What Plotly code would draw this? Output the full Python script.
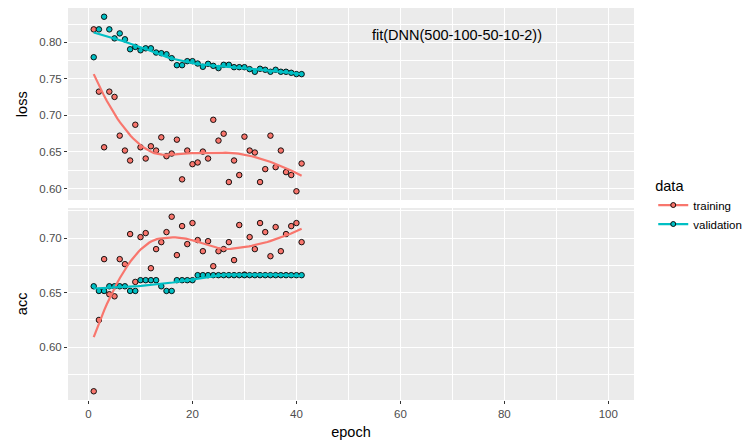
import numpy as np
import plotly.graph_objects as go

# ---- data ----
n_epochs = 100
epoch = list(range(1, 42))

loss_training = [0.8177, 0.7325, 0.6564, 0.7325, 0.7253, 0.6723, 0.6519, 0.6383, 0.6872, 0.6564,
                 0.6410, 0.6578, 0.6519, 0.6700, 0.6442, 0.6478, 0.6668, 0.6125, 0.6519, 0.6333,
                 0.6356, 0.6505, 0.6410, 0.6940, 0.6655, 0.6750, 0.6088, 0.6383, 0.6184, 0.6709,
                 0.6519, 0.6492, 0.6088, 0.6265, 0.6723, 0.6292, 0.6519, 0.6224, 0.6184, 0.5962,
                 0.6342]
loss_validation = [0.7796, 0.8177, 0.8350, 0.8177, 0.8054, 0.8122, 0.8041, 0.7905, 0.7937, 0.7891,
                   0.7918, 0.7918, 0.7860, 0.7851, 0.7837, 0.7783, 0.7687, 0.7687, 0.7742, 0.7742,
                   0.7710, 0.7665, 0.7706, 0.7678, 0.7647, 0.7692, 0.7692, 0.7660, 0.7660, 0.7660,
                   0.7633, 0.7597, 0.7638, 0.7624, 0.7597, 0.7624, 0.7597, 0.7597, 0.7583, 0.7565,
                   0.7565]
acc_training = [0.5595, 0.6249, 0.6807, 0.6485, 0.6466, 0.6807, 0.6761, 0.7037, 0.6598, 0.7009,
                0.7046, 0.6724, 0.6899, 0.6963, 0.7055, 0.7196, 0.6844, 0.7110, 0.6945, 0.7138,
                0.6982, 0.6880, 0.6972, 0.6742, 0.6880, 0.6899, 0.6963, 0.6798, 0.7120, 0.6665,
                0.7009, 0.6899, 0.7138, 0.7055, 0.6834, 0.7101, 0.6880, 0.7037, 0.7110, 0.7138,
                0.6963]
acc_validation = [0.6558, 0.6515, 0.6515, 0.6558, 0.6558, 0.6558, 0.6558, 0.6515, 0.6515, 0.6614,
                  0.6614, 0.6614, 0.6614, 0.6558, 0.6515, 0.6515, 0.6614, 0.6614, 0.6614, 0.6614,
                  0.6660, 0.6660, 0.6660, 0.6660, 0.6660, 0.6660, 0.6660, 0.6660, 0.6660, 0.6660,
                  0.6660, 0.6660, 0.6660, 0.6660, 0.6660, 0.6660, 0.6660, 0.6660, 0.6660, 0.6660,
                  0.6660]

series_names = ["training", "validation"]
series_colors = {"training": "#F8766D", "validation": "#00BFC4"}
title_text = "fit(DNN(500-100-50-10-2))"


def loess(x, y, span=0.75, n_out=80):
    x = np.asarray(x, float)
    y = np.asarray(y, float)
    n = len(x)
    q = int(np.floor(n * span))
    xs = np.linspace(x.min(), x.max(), n_out)
    out = []
    for x0 in xs:
        d = np.abs(x - x0)
        dq = np.sort(d)[q - 1]
        w = np.clip(1 - (d / dq) ** 3, 0, None) ** 3
        X = np.vstack([np.ones(n), x - x0, (x - x0) ** 2]).T
        W = np.diag(w)
        beta = np.linalg.lstsq(X.T @ W @ X, X.T @ W @ y, rcond=None)[0]
        out.append(beta[0])
    return xs, np.array(out)


def yrange(*arrs):
    allv = np.concatenate([np.asarray(a, float) for a in arrs])
    lo, hi = allv.min(), allv.max()
    pad = (hi - lo) * 0.05
    return [lo - pad, hi + pad]


fig = go.Figure()

panels = [("y", {"training": loss_training, "validation": loss_validation}),
          ("y2", {"training": acc_training, "validation": acc_validation})]

# points
for yax, d in panels:
    for name in series_names:
        fig.add_trace(go.Scatter(
            x=epoch, y=d[name], mode="markers", xaxis="x" if yax == "y2" else "x2", yaxis=yax,
            marker=dict(size=5.5, color=series_colors[name], line=dict(color="black", width=0.9)),
            showlegend=False, hoverinfo="skip"))
# smooth lines
for yax, d in panels:
    for name in series_names:
        sx, sy = loess(epoch, d[name])
        fig.add_trace(go.Scatter(
            x=sx, y=sy, mode="lines", xaxis="x" if yax == "y2" else "x2", yaxis=yax,
            line=dict(color=series_colors[name], width=2.2),
            showlegend=False, hoverinfo="skip"))
# legend entries
for name in series_names:
    fig.add_trace(go.Scatter(
        x=[None], y=[None], mode="lines+markers", name=name,
        line=dict(color=series_colors[name], width=2.2),
        marker=dict(size=5, color=series_colors[name], line=dict(color="black", width=0.9))))

xr = [1 - (n_epochs - 1) * 0.05, n_epochs + (n_epochs - 1) * 0.05]
grid = dict(showgrid=True, gridcolor="white", gridwidth=1.1, zeroline=False,
            ticklen=3, tickcolor="#333333", tickwidth=1,
            tickfont=dict(family="Liberation Sans, Arial", size=11.5, color="#4D4D4D"),
            showline=False)
minor_x = dict(dtick=10, tick0=0, showgrid=True, gridcolor="white", gridwidth=0.5)
minor_y = dict(dtick=0.025, tick0=0, showgrid=True, gridcolor="white", gridwidth=0.5)

top_dom = [0.5102, 1]
bot_dom = [0, 0.4898]

fig.update_layout(
    width=742, height=440,
    margin=dict(l=60, r=116, t=0, b=48, autoexpand=False),
    paper_bgcolor="white", plot_bgcolor="#EBEBEB",
    font=dict(family="Liberation Sans, Arial", color="black"),
    xaxis=dict(domain=[0, 1], range=xr, anchor="y2", dtick=20, tick0=0, ticks="outside",
               minor=minor_x, title=dict(text="epoch", font=dict(size=14.5), standoff=8), **grid),
    xaxis2=dict(domain=[0, 1], range=xr, anchor="y", matches="x", dtick=20, tick0=0, ticks="",
                showticklabels=False, minor=minor_x, **grid),
    yaxis=dict(domain=top_dom, range=yrange(loss_training, loss_validation), anchor="x2",
               dtick=0.05, tick0=0, tickformat=".2f", ticks="outside", minor=minor_y, **grid),
    yaxis2=dict(domain=bot_dom, range=yrange(acc_training, acc_validation), anchor="x",
                dtick=0.05, tick0=0, tickformat=".2f", ticks="outside", minor=minor_y, **grid),
    legend=dict(x=1.034, y=0.497, xanchor="left", yanchor="middle",
                title=dict(text="data", font=dict(size=14.5)), itemwidth=30,
                font=dict(size=11.5), bgcolor="rgba(0,0,0,0)", tracegroupgap=0),
    annotations=[
        dict(text="loss", xref="paper", yref="paper", x=-0.081, y=sum(top_dom) / 2, textangle=-90,
             showarrow=False, font=dict(size=14.5, color="black"), xanchor="center", yanchor="middle"),
        dict(text="acc", xref="paper", yref="paper", x=-0.081, y=sum(bot_dom) / 2, textangle=-90,
             showarrow=False, font=dict(size=14.5, color="black"), xanchor="center", yanchor="middle"),
        dict(text=title_text, xref="paper", yref="paper", x=0.687, y=0.931, showarrow=False,
             font=dict(size=14.5, color="black"), xanchor="center", yanchor="middle"),
    ],
)

fig.write_html("out.html")
